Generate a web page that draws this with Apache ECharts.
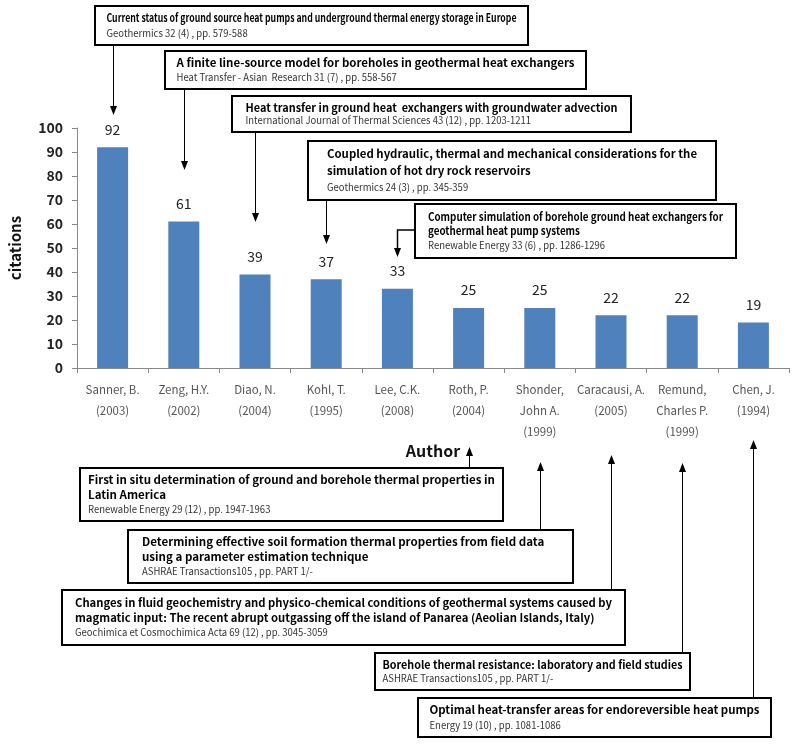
<!DOCTYPE html>
<html><head><meta charset="utf-8">
<script src="https://cdn.jsdelivr.net/npm/echarts@6/dist/echarts.min.js"></script>
<style>html,body{margin:0;padding:0;background:#fff}#c{width:792px;height:752px}</style>
</head><body><div id="c"></div>
<script>
// ---- data ----
const authors = ['Sanner, B.\n(2003)','Zeng, H.Y.\n(2002)','Diao, N.\n(2004)','Kohl, T.\n(1995)','Lee, C.K.\n(2008)','Roth, P.\n(2004)','Shonder,\nJohn A.\n(1999)','Caracausi, A.\n(2005)','Remund,\nCharles P.\n(1999)','Chen, J.\n(1994)'];
const citations = [92, 61, 39, 37, 33, 25, 25, 22, 22, 19];
const yTicks = [0, 10, 20, 30, 40, 50, 60, 70, 80, 90, 100];
const paperTitles = [
  ['Current status of ground source heat pumps and underground thermal energy storage in Europe'],
  ['A finite line-source model for boreholes in geothermal heat exchangers'],
  ['Heat transfer in ground heat  exchangers with groundwater advection'],
  ['Coupled hydraulic, thermal and mechanical considerations for the','simulation of hot dry rock reservoirs'],
  ['Computer simulation of borehole ground heat exchangers for','geothermal heat pump systems'],
  ['First in situ determination of ground and borehole thermal properties in','Latin America'],
  ['Determining effective soil formation thermal properties from field data','using a parameter estimation technique'],
  ['Changes in fluid geochemistry and physico-chemical conditions of geothermal systems caused by','magmatic input: The recent abrupt outgassing off the island of Panarea (Aeolian Islands, Italy)'],
  ['Borehole thermal resistance: laboratory and field studies'],
  ['Optimal heat-transfer areas for endoreversible heat pumps']
];
const paperSources = [
  'Geothermics 32 (4) , pp. 579-588',
  'Heat Transfer - Asian  Research 31 (7) , pp. 558-567',
  'International Journal of Thermal Sciences 43 (12) , pp. 1203-1211',
  'Geothermics 24 (3) , pp. 345-359',
  'Renewable Energy 33 (6) , pp. 1286-1296',
  'Renewable Energy 29 (12) , pp. 1947-1963',
  'ASHRAE Transactions105 , pp. PART 1/-',
  'Geochimica et Cosmochimica Acta 69 (12) , pp. 3045-3059',
  'ASHRAE Transactions105 , pp. PART 1/-',
  'Energy 19 (10) , pp. 1081-1086'
];

// ---- layout (annotation boxes; pixels) ----
const boxLayout = [
  {x:95,  y:6,   w:433, h:39, tw:410, dir:'down', tip:115},
  {x:165, y:51,  w:421, h:38, tw:398, dir:'down', tip:170},
  {x:232, y:96,  w:399, h:36, tw:372, dir:'down', tip:222},
  {x:308, y:141, w:408, h:59, tw:370, dir:'down', tip:244},
  {x:415, y:204, w:321, h:54, tw:295, dir:'elbow', tip:257, stub:230},
  {x:80,  y:468, w:423, h:53, tw:407, dir:'up', tip:447},
  {x:128, y:530, w:445, h:53, tw:417, dir:'up', tip:462},
  {x:62,  y:590, w:563, h:55, tw:537, dir:'up', tip:455},
  {x:375, y:653, w:315, h:37, tw:300, dir:'up', tip:463},
  {x:418, y:698, w:353, h:39, tw:330, dir:'up', tip:440}
];
const BOXFONT = '"Noto Sans CJK KR", "Noto Sans", sans-serif';
const BOXFS = 11;
const SUBFS = 10;
const SUBSX = 0.95;

const chart = echarts.init(document.getElementById('c'), null, {renderer:'canvas'});
chart.setOption({
  animation:false,
  backgroundColor:'#fff',
  grid:{left:77, right:3, top:128, bottom:384},
  xAxis:{
    type:'category', data:authors,
    name:'Author', nameLocation:'middle', nameGap:75,
    nameTextStyle:{fontFamily:BOXFONT, fontWeight:'bold', fontSize:16, color:'#111'},
    axisLine:{lineStyle:{color:'#888'}},
    axisTick:{show:true, length:5, lineStyle:{color:'#888'}},
    axisLabel:{interval:0, margin:11, fontFamily:BOXFONT, fontSize:11.5, lineHeight:21, color:'#555'}
  },
  yAxis:{
    type:'value', min:yTicks[0], max:yTicks[yTicks.length-1], interval:yTicks[1]-yTicks[0],
    name:'citations', nameLocation:'middle', nameRotate:90, nameGap:54,
    nameTextStyle:{fontFamily:BOXFONT, fontWeight:'bold', fontSize:15, color:'#111'},
    splitLine:{show:false},
    axisLine:{show:true, lineStyle:{color:'#888'}},
    axisTick:{show:true, length:5, lineStyle:{color:'#888'}},
    axisLabel:{margin:14, fontFamily:BOXFONT, fontWeight:'bold', fontSize:14, color:'#222'}
  },
  series:[{
    type:'bar', data:citations, barWidth:31,
    itemStyle:{color:'#4f81bd'},
    label:{show:true, position:'top', distance:11, fontFamily:BOXFONT, fontSize:14, color:'#222'}
  }]
});

// ---- annotations ----
const mctx = document.createElement('canvas').getContext('2d');
function measure(text, weight, size){
  mctx.font = weight + ' ' + size + 'px ' + BOXFONT;
  return mctx.measureText(text).width;
}
const graphics = [];
function arrowHead(x, y, dir){
  const hw = 3.5, hl = 9;
  const pts = dir === 'down' ? [[x-hw, y-hl],[x+hw, y-hl],[x, y]] : [[x-hw, y+hl],[x+hw, y+hl],[x, y]];
  graphics.push({type:'polygon', shape:{points:pts}, style:{fill:'#000'}, z:50});
}
boxLayout.forEach((b, i) => {
  const cx = Math.round(chart.convertToPixel({xAxisIndex:0}, i)) + 0.5;
  if (b.dir === 'down') {
    graphics.push({type:'polyline', shape:{points:[[cx, b.y+b.h],[cx, b.tip-8]]}, style:{stroke:'#000', lineWidth:1, fill:null}, z:50});
    arrowHead(cx, b.tip, 'down');
  } else if (b.dir === 'elbow') {
    graphics.push({type:'polyline', shape:{points:[[b.x, b.stub],[cx, b.stub],[cx, b.tip-8]]}, style:{stroke:'#000', lineWidth:1.5, fill:null}, z:50});
    arrowHead(cx, b.tip, 'down');
  } else {
    graphics.push({type:'polyline', shape:{points:[[cx, b.y],[cx, b.tip+8]]}, style:{stroke:'#000', lineWidth:1, fill:null}, z:50});
    arrowHead(cx, b.tip, 'up');
  }
  const lines = paperTitles[i];
  let maxW = 0;
  lines.forEach(l => { maxW = Math.max(maxW, measure(l, 'bold', BOXFS)); });
  const sx = Math.max(0.7, Math.min(1.05, b.tw / maxW));
  const lh = (b.h - 10) / (lines.length + 1);
  const tx = b.x + (b.w - b.tw)/2;
  graphics.push({type:'rect', shape:{x:b.x, y:b.y, width:b.w, height:b.h}, style:{fill:'#fff', stroke:'#000', lineWidth:2}, z:60});
  graphics.push({type:'text', x:tx, y:b.y + 5, scaleX:sx, z:61,
    style:{text:lines.join('\n'), fontFamily:BOXFONT, fontWeight:'bold', fontSize:BOXFS, lineHeight:lh,
      verticalAlign:'top', align:'left', fill:'#000'}});
  graphics.push({type:'text', x:tx, y:b.y + 5 + lines.length*lh, scaleX:SUBSX, z:61,
    style:{text:paperSources[i], fontFamily:BOXFONT, fontWeight:'normal', fontSize:SUBFS, lineHeight:lh,
      verticalAlign:'top', align:'left', fill:'#333'}});
});
chart.setOption({graphic:graphics});
</script>
</body></html>
